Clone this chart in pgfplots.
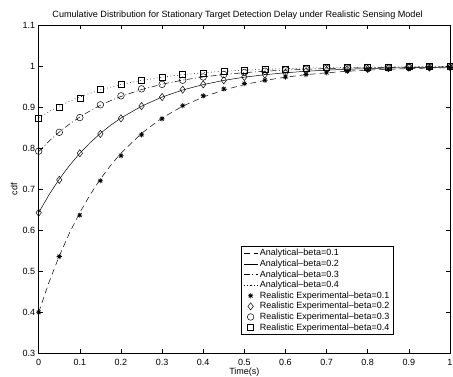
\documentclass[border=0pt]{standalone}
\usepackage{fontspec}
\setmainfont{Liberation Sans}
\usepackage{pgfplots}
\pgfplotsset{compat=1.18}
\usepackage{pgfplotstable}

% eight-spoke star marker (plus and cross overlaid)
\pgfdeclareplotmark{mstar}{%
  \pgfpathmoveto{\pgfqpoint{-\pgfplotmarksize}{0pt}}%
  \pgfpathlineto{\pgfqpoint{\pgfplotmarksize}{0pt}}%
  \pgfpathmoveto{\pgfqpoint{0pt}{-\pgfplotmarksize}}%
  \pgfpathlineto{\pgfqpoint{0pt}{\pgfplotmarksize}}%
  \pgfpathmoveto{\pgfqpoint{-0.707\pgfplotmarksize}{-0.707\pgfplotmarksize}}%
  \pgfpathlineto{\pgfqpoint{0.707\pgfplotmarksize}{0.707\pgfplotmarksize}}%
  \pgfpathmoveto{\pgfqpoint{-0.707\pgfplotmarksize}{0.707\pgfplotmarksize}}%
  \pgfpathlineto{\pgfqpoint{0.707\pgfplotmarksize}{-0.707\pgfplotmarksize}}%
  \pgfusepathqstroke}

% analytical cdf curves
\pgfplotstableread{
t     a1     a2     a3     a4
0.000 0.4000 0.6430 0.7920 0.8740
0.025 0.4731 0.6865 0.8174 0.8894
0.050 0.5373 0.7247 0.8396 0.9028
0.075 0.5937 0.7583 0.8592 0.9147
0.100 0.6433 0.7878 0.8763 0.9251
0.125 0.6868 0.8136 0.8914 0.9342
0.150 0.7250 0.8364 0.9047 0.9422
0.175 0.7585 0.8563 0.9163 0.9493
0.200 0.7879 0.8738 0.9265 0.9555
0.250 0.8365 0.9027 0.9433 0.9657
0.300 0.8739 0.9250 0.9563 0.9735
0.350 0.9028 0.9422 0.9663 0.9796
0.400 0.9251 0.9554 0.9740 0.9843
0.450 0.9422 0.9656 0.9800 0.9879
0.500 0.9554 0.9735 0.9845 0.9906
0.550 0.9656 0.9795 0.9881 0.9928
0.600 0.9735 0.9842 0.9908 0.9944
0.650 0.9796 0.9879 0.9929 0.9957
0.700 0.9842 0.9906 0.9945 0.9967
0.750 0.9879 0.9928 0.9958 0.9975
0.800 0.9906 0.9944 0.9968 0.9980
0.850 0.9928 0.9957 0.9975 0.9985
0.900 0.9944 0.9967 0.9981 0.9988
0.950 0.9957 0.9974 0.9985 0.9991
1.000 0.9967 0.9980 0.9989 0.9993
}\analytic

% measured cdf under the realistic sensing model
\pgfplotstableread{
t    e1    e2    e3    e4
0.00 0.400 0.643 0.793 0.874
0.05 0.536 0.723 0.839 0.901
0.10 0.637 0.788 0.875 0.923
0.15 0.721 0.835 0.906 0.943
0.20 0.782 0.873 0.928 0.956
0.25 0.833 0.903 0.945 0.967
0.30 0.872 0.925 0.956 0.974
0.35 0.904 0.943 0.966 0.980
0.40 0.928 0.956 0.974 0.984
0.45 0.945 0.966 0.980 0.988
0.50 0.958 0.974 0.985 0.991
0.55 0.966 0.980 0.988 0.993
0.60 0.974 0.984 0.991 0.994
0.65 0.980 0.988 0.993 0.996
0.70 0.984 0.991 0.995 0.997
0.75 0.988 0.993 0.996 0.997
0.80 0.991 0.994 0.997 0.998
0.85 0.993 0.996 0.997 0.998
0.90 0.994 0.997 0.998 0.999
0.95 0.996 0.997 0.998 0.999
1.00 0.997 0.998 0.999 0.999
}\experimental

\begin{document}
\begin{tikzpicture}
\path[use as bounding box] (0,0) rectangle (453pt,377pt);
\begin{axis}[
  at={(38.7pt,23.7pt)}, anchor=south west,
  width=411.3pt, height=328pt, scale only axis,
  xmin=0, xmax=1, ymin=0.3, ymax=1.1,
  xtick={0,0.1,0.2,0.3,0.4,0.5,0.6,0.7,0.8,0.9,1},
  ytick={0.3,0.4,0.5,0.6,0.7,0.8,0.9,1,1.1},
  tick align=inside, major tick length=4pt,
  axis line style={line width=0.8pt},
  every tick/.style={black, line width=0.5pt},
  /pgf/number format/assume math mode=true,
  tick label style={font=\fontsize{9}{10}\selectfont},
  xticklabel style={yshift=-2pt},
  title={Cumulative Distribution for Stationary Target Detection Delay under Realistic Sensing Model},
  every axis title shift=0pt,
  title style={at={(axis description cs:0.4835,1.0244)}, anchor=base,
    font=\fontsize{9.1}{10}\selectfont, inner sep=0pt},
  xlabel={Time(s)},
  xlabel style={at={(axis description cs:0.5,-0.064)}, anchor=base, font=\fontsize{9}{10}\selectfont, inner sep=0pt},
  ylabel={cdf},
  ylabel style={at={(axis description cs:-0.052,0.5)}, anchor=base, font=\fontsize{9}{10}\selectfont, inner sep=0pt},
  legend style={at={(0.4915,0.327)}, anchor=north west, draw=black, line width=0.8pt,
    font=\fontsize{9}{10}\selectfont, legend cell align=left,
    inner ysep=1.5pt, inner xsep=2pt,
    nodes={inner ysep=1.3pt, inner xsep=2pt}},
  legend image code/.code={%
    \draw[mark repeat=2,mark phase=2,line width=0.5pt] plot coordinates {(0cm,0cm) (0.25cm,0cm) (0.5cm,0cm)};},
]
\addplot[black, line width=0.5pt, dash pattern=on 6pt off 4pt] table[x=t, y=a1] {\analytic};
\addlegendentry{Analytical--beta=0.1}
\addplot[black, line width=0.5pt] table[x=t, y=a2] {\analytic};
\addlegendentry{Analytical--beta=0.2}
\addplot[black, line width=0.5pt, dash pattern=on 6pt off 2.5pt on 1pt off 2.5pt] table[x=t, y=a3] {\analytic};
\addlegendentry{Analytical--beta=0.3}
\addplot[black, line width=0.5pt, dash pattern=on 0.8pt off 2.6pt] table[x=t, y=a4] {\analytic};
\addlegendentry{Analytical--beta=0.4}
\addplot[black, only marks, mark=mstar, mark size=2.6pt, mark options={line width=0.7pt}] table[x=t, y=e1] {\experimental};
\addlegendentry{Realistic Experimental--beta=0.1}
\addplot[black, only marks, mark=diamond, mark size=3.6pt, mark options={line width=0.5pt, fill=none}] table[x=t, y=e2] {\experimental};
\addlegendentry{Realistic Experimental--beta=0.2}
\addplot[black, only marks, mark=o, mark size=3.3pt, mark options={line width=0.5pt, fill=none}] table[x=t, y=e3] {\experimental};
\addlegendentry{Realistic Experimental--beta=0.3}
\addplot[black, only marks, mark=square, mark size=3pt, mark options={line width=0.5pt, fill=none}] table[x=t, y=e4] {\experimental};
\addlegendentry{Realistic Experimental--beta=0.4}
\end{axis}
\end{tikzpicture}
\end{document}
